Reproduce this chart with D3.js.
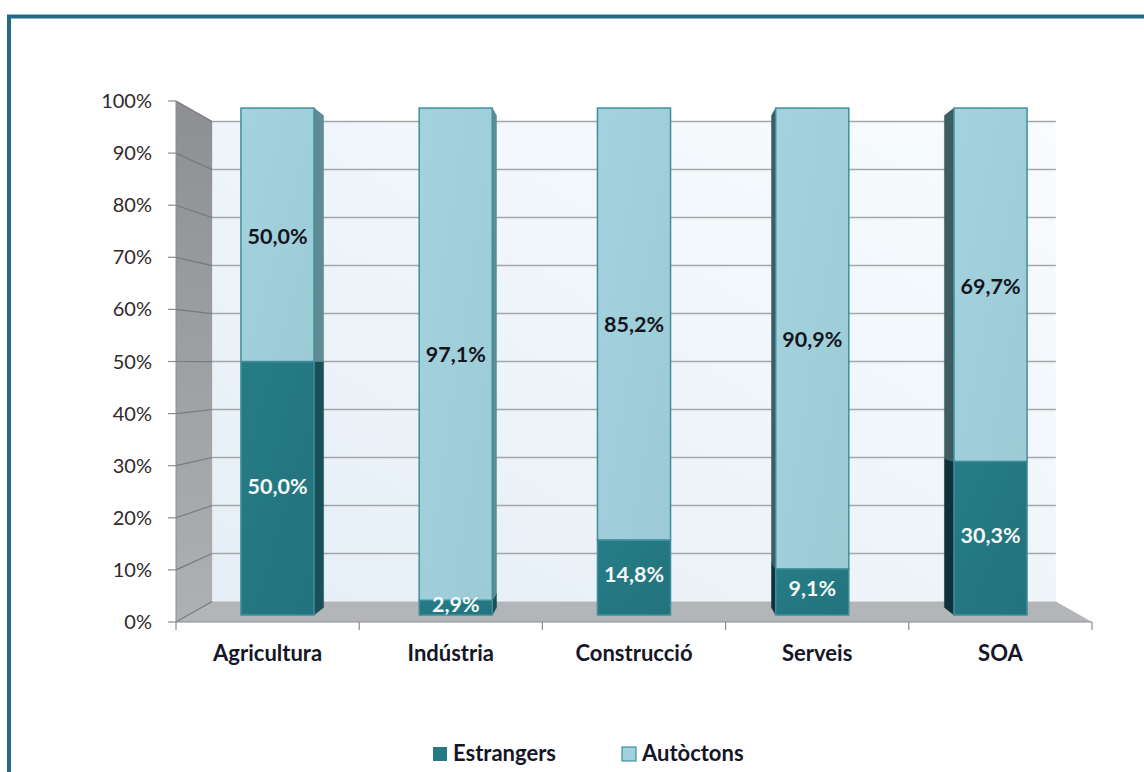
<!DOCTYPE html>
<html>
<head>
<meta charset="utf-8">
<script src="https://cdn.jsdelivr.net/npm/d3@7"></script>
<style>
  body { margin: 0; background: #fff; }
  text { font-family: Lato, "Open Sans", sans-serif; }
</style>
</head>
<body>
<svg id="chart" width="1144" height="772"></svg>
<script>
// data
var categories = ["Agricultura", "Indústria", "Construcció", "Serveis", "SOA"];
var estrangers = [50.0, 2.9, 14.8, 9.1, 30.3];
var autoctons = [50.0, 97.1, 85.2, 90.9, 69.7];
var seriesNames = ["Estrangers", "Autòctons"];
var yTicks = [0, 10, 20, 30, 40, 50, 60, 70, 80, 90, 100];

var W = 1144, H = 772;
var svg = d3.select("#chart");

// perspective: vanishing point and depth scales
var V = [634, 362];
var sBack = 0.921, barFront = 0.973, barBack = 0.944, labelDepth = 0.958;

var x = d3.scaleBand().domain(categories).range([176, 1092]);
var y = d3.scaleLinear().domain([0, 100]).range([622, 101]);

function proj(px, py, s) {
    return [V[0] + s * (px - V[0]), V[1] + s * (py - V[1])];
}
function poly(pts) { return "M" + pts.map(function(p) { return p.join(","); }).join("L") + "Z"; }

var defs = svg.append("defs");
var gw = defs.append("linearGradient").attr("id", "wall").attr("x1", 0).attr("y1", 1).attr("x2", 1).attr("y2", 0);
gw.append("stop").attr("offset", 0).attr("stop-color", "#e5eef6");
gw.append("stop").attr("offset", 1).attr("stop-color", "#f8fcfe");
var gl = defs.append("linearGradient").attr("id", "lwall").attr("x1", 0).attr("y1", 0).attr("x2", 0).attr("y2", 1);
gl.append("stop").attr("offset", 0).attr("stop-color", "#8d8f92");
gl.append("stop").attr("offset", 1).attr("stop-color", "#aeb0b3");
var gLight = defs.append("linearGradient").attr("id", "light").attr("x1", 0).attr("y1", 0).attr("x2", 1).attr("y2", 1);
gLight.append("stop").attr("offset", 0).attr("stop-color", "#a3d3de");
gLight.append("stop").attr("offset", 1).attr("stop-color", "#9ccbd6");
var gDark = defs.append("linearGradient").attr("id", "dark").attr("x1", 0).attr("y1", 0).attr("x2", 1).attr("y2", 1);
gDark.append("stop").attr("offset", 0).attr("stop-color", "#267c86");
gDark.append("stop").attr("offset", 1).attr("stop-color", "#22737d");

// frame
svg.append("rect").attr("x", 9).attr("y", 16.5).attr("width", W + 20).attr("height", H + 20)
    .attr("fill", "none").attr("stroke", "#236a85").attr("stroke-width", 4);

var x0 = x.range()[0], x1 = x.range()[1];
var y0 = y(0), y1 = y(100);

// back wall
svg.append("path")
    .attr("d", poly([proj(x0, y1, sBack), proj(x1, y1, sBack), proj(x1, y0, sBack), proj(x0, y0, sBack)]))
    .attr("fill", "url(#wall)");
// left wall
svg.append("path")
    .attr("d", poly([[x0, y1], proj(x0, y1, sBack), proj(x0, y0, sBack), [x0, y0]]))
    .attr("fill", "url(#lwall)");
// floor
svg.append("path")
    .attr("d", poly([[x0, y0], proj(x0, y0, sBack), proj(x1, y0, sBack), [x1, y0]]))
    .attr("fill", "#b3b5b8");

// gridlines
var grid = svg.append("g");
yTicks.forEach(function(t) {
    var a = proj(x0, y(t), sBack), b = proj(x1, y(t), sBack);
    if (t > 0) {
        grid.append("line").attr("x1", a[0]).attr("y1", a[1]).attr("x2", b[0]).attr("y2", b[1])
            .attr("stroke", "#a4a6a8").attr("stroke-width", 1.5);
    }
    grid.append("line").attr("x1", x0).attr("y1", y(t)).attr("x2", a[0]).attr("y2", a[1])
        .attr("stroke", "#77797c").attr("stroke-width", 1.2);
    grid.append("line").attr("x1", x0 - 8).attr("y1", y(t)).attr("x2", x0).attr("y2", y(t))
        .attr("stroke", "#8a8c8f").attr("stroke-width", 1.2);
});
// axis lines
svg.append("line").attr("x1", x0).attr("y1", y1).attr("x2", x0).attr("y2", y0).attr("stroke", "#8a8c8f");
svg.append("line").attr("x1", x0).attr("y1", y0).attr("x2", x1).attr("y2", y0).attr("stroke", "#8a8c8f");
d3.range(categories.length + 1).forEach(function(i) {
    var xx = x0 + i * x.bandwidth();
    svg.append("line").attr("x1", xx).attr("y1", y0).attr("x2", xx).attr("y2", y0 + 8)
        .attr("stroke", "#8a8c8f").attr("stroke-width", 1.2);
});

// y labels
svg.append("g").selectAll("text").data(yTicks).enter().append("text")
    .attr("x", 152).attr("y", function(d) { return y(d) + 7; })
    .attr("text-anchor", "end").attr("font-size", 20).attr("fill", "#2f2a2a")
    .text(function(d) { return d + "%"; });

// bars
var bars = svg.append("g");
categories.forEach(function(c, i) {
    var cx = x(c) + x.bandwidth() / 2;
    var hw = x.bandwidth() * 0.205;
    var segs = [
        { lo: 0, hi: estrangers[i], fill: "url(#dark)", sideR: "#1a4f57", sideL: "#0f3239" },
        { lo: estrangers[i], hi: 100, fill: "url(#light)", sideR: "#5f8b92", sideL: "#3d5d63" }
    ];
    var left = cx < V[0] - 1, right = cx > V[0] + 1;
    segs.forEach(function(s) {
        if (left || right) {
            var ex = left ? cx + hw : cx - hw;
            var col = left ? s.sideR : s.sideL;
            bars.append("path")
                .attr("d", poly([proj(ex, y(s.hi), barFront), proj(ex, y(s.hi), barBack), proj(ex, y(s.lo), barBack), proj(ex, y(s.lo), barFront)]))
                .attr("fill", col).attr("stroke", col).attr("stroke-width", 0.5);
        }
    });
    segs.forEach(function(s) {
        var a = proj(cx - hw, y(s.hi), barFront), b = proj(cx + hw, y(s.lo), barFront);
        bars.append("rect").attr("x", a[0]).attr("y", a[1]).attr("width", b[0] - a[0]).attr("height", b[1] - a[1])
            .attr("fill", s.fill).attr("stroke", "#3f8e9d").attr("stroke-width", 1.5);
    });
});

// data labels
var lab = svg.append("g").attr("font-weight", "bold").attr("font-size", 21.5).attr("text-anchor", "middle");
function fmt(v) { return v.toFixed(1).replace(".", ",") + "%"; }
categories.forEach(function(c, i) {
    var cx = x(c) + x.bandwidth() / 2;
    var fx = proj(cx, 0, barFront)[0];
    var yl = proj(cx, y(estrangers[i] / 2), labelDepth)[1];
    var yh = proj(cx, y(estrangers[i] + autoctons[i] / 2), labelDepth)[1];
    lab.append("text").attr("x", fx).attr("y", yl).attr("dy", "0.36em").attr("fill", "#f4f8f8").text(fmt(estrangers[i]));
    lab.append("text").attr("x", fx).attr("y", yh).attr("dy", "0.36em").attr("fill", "#151520").text(fmt(autoctons[i]));
});

// category labels
svg.append("g").selectAll("text").data(categories).enter().append("text")
    .attr("x", function(d) { return x(d) + x.bandwidth() / 2; }).attr("y", 661)
    .attr("text-anchor", "middle").attr("font-size", 22).attr("font-weight", "bold").attr("fill", "#161629")
    .text(function(d) { return d; });

// legend
var legend = svg.append("g").attr("font-size", 22).attr("font-weight", "bold");
var legX = [433, 622];
var legFill = ["#247983", "#a0d1dc"];
seriesNames.forEach(function(n, i) {
    legend.append("rect").attr("x", legX[i]).attr("y", 747).attr("width", 14).attr("height", 14)
        .attr("fill", legFill[i]).attr("stroke", i ? "#3f8e9d" : "none").attr("stroke-width", 1.2);
    legend.append("text").attr("x", legX[i] + 20).attr("y", 761).attr("fill", "#161629").text(n);
});
</script>
</body>
</html>
